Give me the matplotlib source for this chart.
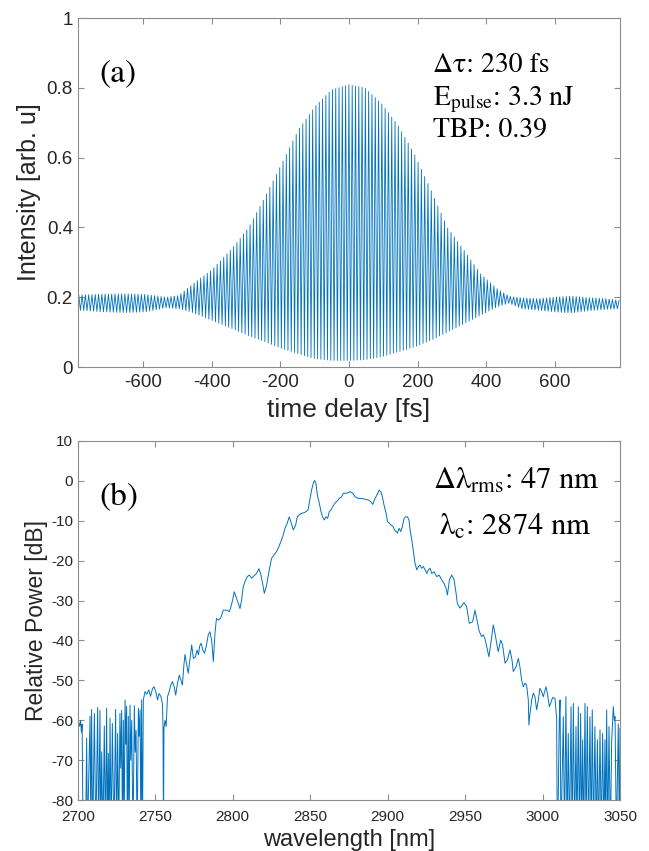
import numpy as np
import matplotlib
matplotlib.use("Agg")
import matplotlib.pyplot as plt

plt.rcParams['font.family'] = ['Liberation Sans', 'DejaVu Sans']
plt.rcParams['mathtext.fontset'] = 'stix'
plt.rcParams['axes.unicode_minus'] = False

# ---- (a) autocorrelation: fringe envelope ----
t_knots = [-790, -713, -653, -593, -532, -496, -460, -400, -340, -292, -243, -195,
           -147, -99, -51, 0, 46, 94, 142, 190, 239, 287, 335, 383, 431, 467,
           504, 552, 600, 648, 696, 745, 790]
upper_env = [0.206, 0.209, 0.210, 0.208, 0.200, 0.205, 0.234, 0.278, 0.340, 0.400,
             0.490, 0.584, 0.680, 0.746, 0.794, 0.809, 0.800, 0.756, 0.694, 0.612,
             0.507, 0.400, 0.335, 0.268, 0.225, 0.203, 0.198, 0.196, 0.200, 0.203,
             0.199, 0.196, 0.191]
lower_env = [0.163, 0.158, 0.156, 0.158, 0.170, 0.167, 0.158, 0.134, 0.110, 0.090,
             0.072, 0.053, 0.038, 0.024, 0.019, 0.019, 0.021, 0.029, 0.043, 0.057,
             0.077, 0.100, 0.124, 0.148, 0.172, 0.183, 0.167, 0.163, 0.158, 0.155,
             0.161, 0.165, 0.167]
half_period = 4.8  # fs, fringe spacing ~ lambda_c / c

# ---- (b) spectrum [nm, dB]; -90 = below plot floor ----
wl = [2700.0, 2700.5, 2701.2, 2701.8, 2702.3, 2702.8, 2703.4, 2705.0, 2705.7, 2706.2,
      2707.9, 2708.4, 2708.9, 2709.6, 2710.7, 2711.6, 2712.8, 2713.4, 2714.3, 2714.8,
      2715.4, 2716.2, 2717.1, 2717.8, 2718.6, 2719.1, 2719.7, 2720.2, 2720.8, 2721.5,
      2722.3, 2723.3, 2724.4, 2725.0, 2725.7, 2726.4, 2727.2, 2727.7, 2728.3, 2728.8,
      2729.4, 2729.9, 2730.5, 2731.0, 2731.5, 2732.0, 2732.6, 2733.1, 2733.7, 2734.2,
      2734.8, 2735.6, 2736.5, 2737.0, 2737.6, 2738.3, 2739.1, 2739.6, 2740.2, 2740.7,
      2741.2, 2741.7, 2742.3, 2743.4, 2744.5, 2745.8, 2746.9, 2748.3, 2749.2, 2750.3,
      2751.5, 2752.4, 2753.6, 2754.6, 2755.0, 2755.3, 2755.6, 2756.3, 2757.0, 2757.9,
      2759.0, 2760.0, 2761.1, 2762.2, 2763.2, 2764.3, 2765.5, 2766.6, 2767.5, 2768.5,
      2769.2, 2770.0, 2771.3, 2772.3, 2773.5, 2774.6, 2775.9, 2777.0, 2777.9, 2778.6,
      2779.6, 2780.7, 2781.8, 2782.9, 2784.2, 2785.3, 2786.4, 2787.5, 2788.5, 2789.5,
      2790.7, 2792.2, 2793.9, 2796.1, 2797.8, 2798.9, 2799.9, 2801.0, 2802.1, 2803.6,
      2804.7, 2805.7, 2806.8, 2807.9, 2809.4, 2810.7, 2812.2, 2813.7, 2815.4, 2816.9,
      2818.0, 2819.3, 2820.4, 2821.9, 2823.6, 2825.1, 2826.6, 2828.3, 2829.8, 2831.1,
      2832.6, 2833.7, 2835.2, 2836.5, 2837.8, 2839.1, 2840.6, 2841.7, 2843.0, 2844.5,
      2846.0, 2847.3, 2848.6, 2849.9, 2850.9, 2852.0, 2852.9, 2853.7, 2854.6, 2855.9,
      2857.0, 2858.0, 2859.1, 2860.2, 2861.3, 2862.3, 2863.4, 2864.5, 2866.0, 2867.1,
      2868.8, 2870.3, 2871.4, 2873.6, 2875.8, 2877.5, 2879.0, 2881.1, 2883.3, 2885.4,
      2887.6, 2889.1, 2890.4, 2891.9, 2893.4, 2894.5, 2895.6, 2896.6, 2897.7, 2899.0,
      2899.9, 2901.1, 2902.2, 2903.3, 2904.4, 2905.5, 2906.3, 2907.4, 2908.5, 2909.5,
      2910.6, 2911.7, 2912.8, 2913.8, 2914.5, 2915.6, 2916.6, 2917.7, 2918.8, 2919.9,
      2920.9, 2922.0, 2923.1, 2924.2, 2925.3, 2926.3, 2927.4, 2928.5, 2930.0, 2931.7,
      2933.2, 2934.9, 2936.4, 2937.7, 2938.6, 2939.9, 2941.4, 2942.9, 2944.2, 2945.0,
      2946.7, 2949.3, 2951.0, 2952.7, 2954.9, 2956.4, 2957.9, 2959.2, 2960.7, 2961.8,
      2962.8, 2963.9, 2965.4, 2966.5, 2968.2, 2969.3, 2970.4, 2971.4, 2973.0, 2974.2,
      2975.8, 2977.3, 2979.0, 2980.3, 2981.1, 2982.9, 2984.4, 2985.4, 2986.5, 2987.6,
      2988.7, 2989.7, 2990.8, 2991.2, 2991.9, 2993.0, 2994.0, 2995.1, 2996.2, 2997.3,
      2998.3, 2999.4, 3000.5, 3002.2, 3003.1, 3004.4, 3005.2, 3006.5, 3008.0, 3009.1,
      3009.5, 3009.8, 3010.8, 3011.3, 3011.9, 3013.4, 3014.2, 3015.1, 3015.8, 3016.6,
      3017.4, 3018.4, 3019.1, 3019.9, 3020.7, 3021.6, 3022.2, 3023.1, 3023.8, 3024.6,
      3025.2, 3025.9, 3026.6, 3027.4, 3028.1, 3028.9, 3029.7, 3030.6, 3031.4, 3032.1,
      3032.9, 3033.8, 3034.7, 3035.4, 3036.2, 3037.1, 3037.9, 3038.8, 3039.6, 3040.3,
      3040.8, 3041.4, 3042.1, 3042.9, 3043.8, 3044.6, 3044.9, 3045.7, 3046.3, 3046.8,
      3047.7, 3048.9, 3049.6, 3050.0]
power_db = [-64.0, -60.5, -61.5, -60.0, -63.0, -61.0, -90, -90, -64.5, -90,
            -59.0, -90, -57.3, -90, -58.3, -90, -56.8, -90, -57.5, -90,
            -67.9, -90, -61.4, -90, -57.0, -90, -68.3, -90, -59.5, -90,
            -60.8, -90, -57.3, -90, -63.3, -90, -58.3, -72.0, -57.5, -90,
            -60.0, -90, -54.9, -66.0, -56.5, -90, -59.0, -90, -56.2, -70.0,
            -60.0, -90, -56.4, -68.0, -62.5, -90, -57.0, -64.0, -57.4, -90,
            -54.9, -90, -54.9, -52.8, -53.5, -52.4, -54.0, -52.0, -51.6, -52.8,
            -54.9, -53.3, -54.0, -55.8, -61.6, -90, -62.0, -60.0, -61.6, -54.1,
            -52.8, -51.2, -50.3, -51.6, -53.7, -50.8, -48.7, -50.0, -51.2, -46.1,
            -43.5, -45.5, -48.2, -44.9, -41.1, -44.5, -44.1, -42.4, -43.6, -41.5,
            -40.7, -42.4, -43.2, -41.5, -38.6, -37.8, -39.9, -45.3, -38.4, -34.5,
            -34.9, -34.4, -32.4, -32.4, -32.8, -31.5, -29.9, -27.8, -29.0, -30.7,
            -32.0, -29.9, -26.5, -25.3, -24.0, -23.6, -24.4, -23.8, -23.2, -22.0,
            -23.2, -25.7, -28.2, -26.1, -22.3, -19.4, -18.6, -17.7, -16.5, -15.2,
            -13.6, -11.9, -10.6, -9.0, -10.6, -12.3, -11.1, -9.0, -8.5, -8.1,
            -8.0, -7.7, -7.3, -4.4, -2.3, -0.6, 0.1, -0.6, -3.5, -5.6,
            -7.7, -9.0, -9.8, -9.0, -9.4, -7.7, -7.3, -6.5, -5.6, -5.2,
            -4.4, -4.0, -3.1, -3.1, -2.7, -3.1, -4.0, -4.4, -4.4, -4.6,
            -4.8, -5.2, -5.9, -4.4, -3.3, -2.3, -2.7, -4.0, -6.1, -8.1,
            -10.2, -10.6, -11.1, -11.3, -12.3, -12.7, -13.1, -11.9, -12.7, -11.5,
            -9.4, -9.0, -9.0, -9.8, -12.3, -14.8, -17.7, -20.7, -22.3, -21.5,
            -21.1, -21.9, -21.5, -22.3, -23.2, -22.3, -21.9, -23.2, -22.8, -24.0,
            -23.6, -24.8, -25.7, -26.9, -28.6, -24.8, -23.6, -24.8, -28.2, -30.7,
            -31.9, -30.5, -31.5, -35.7, -35.3, -32.4, -35.3, -37.8, -39.0, -38.6,
            -39.5, -41.5, -44.1, -41.1, -36.1, -38.2, -40.7, -42.8, -39.9, -41.1,
            -45.7, -44.9, -42.4, -44.9, -47.8, -46.6, -44.5, -46.6, -49.9, -51.6,
            -50.7, -51.2, -54.9, -61.2, -58.3, -54.9, -53.2, -54.1, -57.4, -54.9,
            -52.0, -52.8, -54.1, -51.6, -53.2, -56.6, -55.8, -54.3, -54.5, -59.5,
            -90, -90, -60.0, -54.9, -90, -59.1, -90, -54.1, -90, -63.3,
            -90, -56.6, -90, -55.8, -90, -61.6, -90, -56.6, -90, -58.3,
            -90, -64.9, -90, -55.8, -90, -56.6, -90, -59.1, -90, -57.4,
            -90, -61.6, -90, -64.9, -90, -62.4, -90, -63.3, -90, -64.9,
            -90, -57.4, -90, -61.6, -90, -65.4, -63.0, -56.6, -60.0, -59.1,
            -90, -60.9, -90, -62.0]

line_color = '#0072BD'
axis_color = '#8c8c8c'
label_color = '#262626'


def style_axes(ax, tick_size, xpad):
    for s in ax.spines.values():
        s.set_color(axis_color)
        s.set_linewidth(0.8)
    ax.tick_params(direction='in', top=True, right=True, length=4,
                   color=axis_color, labelcolor=label_color, labelsize=tick_size)
    ax.tick_params(axis='x', pad=xpad)


fig = plt.figure(figsize=(6.49, 8.51), dpi=100)

# panel (a)
ax1 = fig.add_axes([0.1199, 0.5687, 0.8354, 0.4101])
k = np.arange(-164, 165)
t_ext = k * half_period
env_hi = np.interp(t_ext, t_knots, upper_env)
env_lo = np.interp(t_ext, t_knots, lower_env)
intensity = np.where(k % 2 == 0, env_hi, env_lo)
ax1.plot(t_ext, intensity, color=line_color, lw=0.6)
ax1.set_xlim(-790, 790)
ax1.set_ylim(0, 1)
ax1.set_xticks([-600, -400, -200, 0, 200, 400, 600])
ax1.set_yticks([0, 0.2, 0.4, 0.6, 0.8, 1])
ax1.set_yticklabels(['0', '0.2', '0.4', '0.6', '0.8', '1'])
style_axes(ax1, 13.5, 5)
ax1.set_xlabel('time delay [fs]', fontsize=19, color=label_color, labelpad=5)
ax1.set_ylabel('Intensity [arb. u]', fontsize=18, color=label_color, labelpad=4)

serif = 'STIXGeneral'
ax1.text(0.040, 0.819, '(a)', transform=ax1.transAxes, fontsize=24,
         family=serif, va='baseline')
ax1.text(0.655, 0.846, 'Δτ: 230 fs', transform=ax1.transAxes, fontsize=20,
         family=serif, va='baseline')
ax1.text(0.655, 0.751, r'E$_{\mathrm{pulse}}$: 3.3 nJ', transform=ax1.transAxes,
         fontsize=20, family=serif, va='baseline')
ax1.text(0.655, 0.660, 'TBP: 0.39', transform=ax1.transAxes, fontsize=20,
         family=serif, va='baseline')

# panel (b)
ax2 = fig.add_axes([0.1199, 0.0599, 0.8354, 0.4219])
ax2.plot(wl, power_db, color=line_color, lw=0.7)
ax2.set_xlim(2700, 3050)
ax2.set_ylim(-80, 10)
ax2.set_xticks(np.arange(2700, 3051, 50))
ax2.set_yticks(np.arange(-80, 11, 10))
style_axes(ax2, 11, 7)
ax2.set_xlabel('wavelength [nm]', fontsize=17, color=label_color, labelpad=4)
ax2.set_ylabel('Relative Power [dB]', fontsize=16.5, color=label_color, labelpad=2)

ax2.text(0.040, 0.822, '(b)', transform=ax2.transAxes, fontsize=24,
         family=serif, va='baseline')
ax2.text(0.655, 0.868, r'Δλ$_{\mathrm{rms}}$: 47 nm', transform=ax2.transAxes,
         fontsize=22, family=serif, va='baseline')
ax2.text(0.666, 0.738, r'λ$_{\mathrm{c}}$: 2874 nm', transform=ax2.transAxes,
         fontsize=22, family=serif, va='baseline')

fig.savefig('out.png', dpi=100)
